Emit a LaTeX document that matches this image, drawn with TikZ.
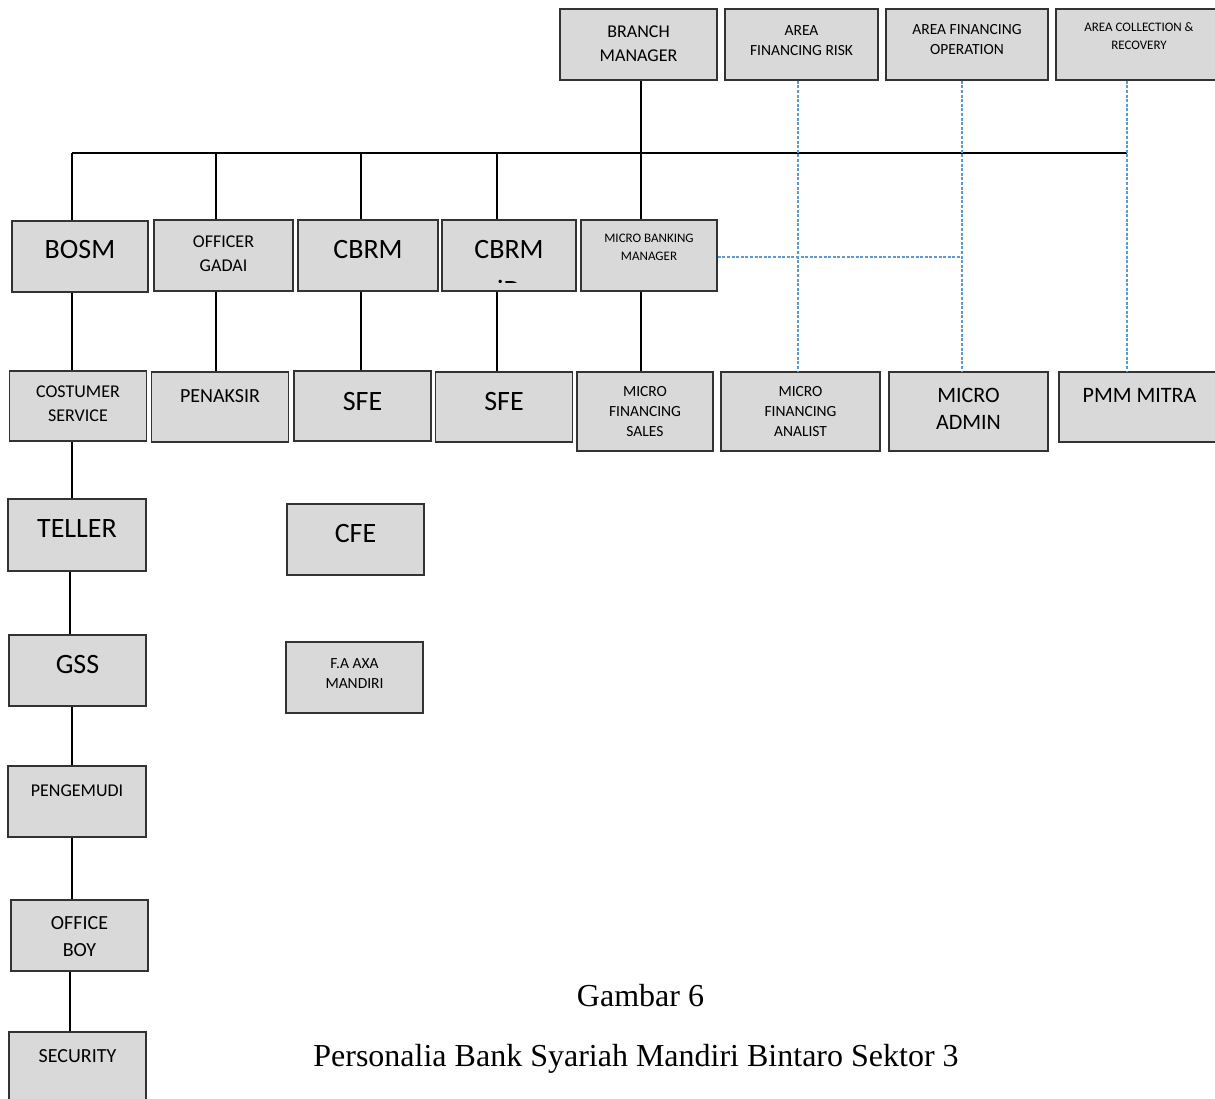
\documentclass[tikz,border=0pt]{standalone}
\usepackage{fontspec}
\setmainfont{Carlito}
\newfontfamily\captfont{Liberation Serif}
\usepackage{tikz}

\definecolor{isi}{HTML}{D9D9D9}
\definecolor{tepi}{HTML}{333333}
\definecolor{biru}{HTML}{5B9BD5}

\tikzset{
  kotak/.style={draw=tepi, fill=isi, line width=1.6pt, inner sep=0pt},
  hubung/.style={line width=1.3pt},
  putus/.style={draw=biru, line width=1.1pt, dash pattern=on 3pt off 1.6pt},
  fXL/.style={font=\fontsize{28}{34}\selectfont, align=center, anchor=center},
  fL/.style={font=\fontsize{22}{27}\selectfont, align=center, anchor=center},
  fM/.style={font=\fontsize{20}{27}\selectfont, align=center, anchor=center},
  fN/.style={font=\fontsize{18}{24}\selectfont, align=center, anchor=center},
  fS/.style={font=\fontsize{15.5}{20}\selectfont, align=center, anchor=center},
  fT/.style={font=\fontsize{13}{18}\selectfont, align=center, anchor=center},
  judul/.style={font=\captfont\fontsize{32}{38}\selectfont, anchor=base}
}

\begin{document}
\begin{tikzpicture}[x=1pt, y=-1pt]
    \useasboundingbox (0,0) rectangle (1215,1099);

    % top row
    \node[kotak, minimum width=157pt, minimum height=71pt, label={[fN, yshift=-35.5pt]north:BRANCH\\MANAGER}] (bm) at (638.5,44.5) {};
    \node[kotak, minimum width=153pt, minimum height=71pt, label={[fS, yshift=-32pt]north:AREA\\FINANCING RISK}] (afr) at (801.5,44.5) {};
    \node[kotak, minimum width=162pt, minimum height=71pt, label={[fS, yshift=-31.5pt]north:AREA FINANCING\\OPERATION}] (afo) at (967,44.5) {};
    \node[kotak, minimum width=166pt, minimum height=71pt, label={[fT, yshift=-28pt]north:AREA COLLECTION \&\\RECOVERY}] (acr) at (1139,44.5) {};

    % second row
    \node[kotak, minimum width=136pt, minimum height=71pt, label={[fXL, yshift=-29pt]north:BOSM}] (bosm) at (80,256.5) {};
    \node[kotak, minimum width=139pt, minimum height=71pt, label={[fN, yshift=-35pt]north:OFFICER\\GADAI}] (og) at (223.5,255.5) {};
    \node[kotak, minimum width=140pt, minimum height=71pt, label={[fXL, yshift=-30pt]north:CBRM}] (cbrm) at (368,255.5) {};
    \node[kotak, minimum width=134pt, minimum height=71pt, label={[fXL, yshift=-30pt]north:CBRM}] (cbrmb) at (509,255.5) {};
    \node[kotak, minimum width=136pt, minimum height=71pt, label={[fT, yshift=-28pt]north:MICRO BANKING\\MANAGER}] (mbm) at (649,255.5) {};
    \begin{scope}
        \clip (443,222) rectangle (575,283);
        \node[fXL] (cbrmid) at (509,290) {iD};
    \end{scope}

    % third row
    \node[kotak, minimum width=137pt, minimum height=70pt, label={[fN, yshift=-33.5pt]north:COSTUMER\\SERVICE}] (cs) at (78,406) {};
    \node[kotak, minimum width=137pt, minimum height=70pt, label={[fM, yshift=-25pt]north:PENAKSIR}] (pen) at (220,407) {};
    \node[kotak, minimum width=137pt, minimum height=70pt, label={[fXL, yshift=-31pt]north:SFE}] (sfe) at (362.5,406) {};
    \node[kotak, minimum width=137pt, minimum height=70pt, label={[fXL, yshift=-30pt]north:SFE}] (sfeb) at (504,407) {};
    \node[kotak, minimum width=136pt, minimum height=79pt, label={[fS, yshift=-40pt]north:MICRO\\FINANCING\\SALES}] (mfs) at (645,411.5) {};
    \node[kotak, minimum width=159pt, minimum height=79pt, label={[fS, yshift=-40pt]north:MICRO\\FINANCING\\ANALIST}] (mfa) at (800.5,411.5) {};
    \node[kotak, minimum width=159pt, minimum height=79pt, label={[fL, yshift=-37.5pt]north:MICRO\\ADMIN}] (ma) at (968.5,411.5) {};
    \node[kotak, minimum width=161pt, minimum height=70pt, label={[fL, yshift=-24pt]north:PMM MITRA}] (pmm) at (1139.5,407) {};

    % left column
    \node[kotak, minimum width=138pt, minimum height=72pt, label={[fXL, yshift=-30pt]north:TELLER}] (tel) at (77,535) {};
    \node[kotak, minimum width=137pt, minimum height=71pt, label={[fXL, yshift=-30pt]north:GSS}] (gss) at (77.5,670.5) {};
    \node[kotak, minimum width=138pt, minimum height=71pt, label={[fN, yshift=-26pt]north:PENGEMUDI}] (peng) at (77,801.5) {};
    \node[kotak, minimum width=137pt, minimum height=71pt, label={[fM, yshift=-37.5pt]north:OFFICE\\BOY}] (ob) at (79.5,935.5) {};
    \node[kotak, minimum width=137pt, minimum height=78pt, label={[fM, yshift=-25pt]north:SECURITY}] (sec) at (77.5,1071) {};

    % loose boxes
    \node[kotak, minimum width=137pt, minimum height=71pt, label={[fXL, yshift=-30pt]north:CFE}] (cfe) at (355.5,539.5) {};
    \node[kotak, minimum width=137pt, minimum height=71pt, label={[fS, yshift=-32pt]north:F.A AXA\\MANDIRI}] (fa) at (354.5,677.5) {};

    % lines
    \coordinate (xa) at (72,153);
    \coordinate (xaa) at (70,153);
    \coordinate (xb) at (216,153);
    \coordinate (xc) at (361,153);
    \coordinate (xd) at (497,153);
    \coordinate (xe) at (641,153);
    \coordinate (xf) at (1127,153);
    \coordinate (da) at (798,153);
    \coordinate (db) at (962,153);

    \draw[hubung] (xa) -- (xf);
    \draw[hubung] (bm.south -| xe) -- (mbm.north -| xe);
    \draw[hubung] (xa) -- (xa |- bosm.north);
    \draw[hubung] (xb) -- (xb |- og.north);
    \draw[hubung] (xc) -- (xc |- cbrm.north);
    \draw[hubung] (xd) -- (xd |- cbrmb.north);

    \draw[hubung] (bosm.south -| xa) -- (cs.north -| xa);
    \draw[hubung] (og.south -| xb) -- (pen.north -| xb);
    \draw[hubung] (cbrm.south -| xc) -- (sfe.north -| xc);
    \draw[hubung] (cbrmb.south -| xd) -- (sfeb.north -| xd);
    \draw[hubung] (mbm.south -| xe) -- (mfs.north -| xe);

    \draw[hubung] (cs.south -| xa) -- (tel.north -| xa);
    \draw[hubung] (tel.south -| xaa) -- (gss.north -| xaa);
    \draw[hubung] (gss.south -| xa) -- (peng.north -| xa);
    \draw[hubung] (peng.south -| xa) -- (ob.north -| xa);
    \draw[hubung] (ob.south -| xaa) -- (sec.north -| xaa);

    \draw[putus] (afr.south -| da) -- (mfa.north -| da);
    \draw[putus] (afo.south -| db) -- (ma.north -| db);
    \draw[putus] (acr.south -| xf) -- (pmm.north -| xf);
    \draw[putus] ([yshift=-1.5pt]mbm.east) -- ([yshift=-1.5pt]mbm.east -| db);

    % caption
    \node[judul] (gambar) at (640.5,1006) {Gambar 6};
    \node[judul] (ket) at (636,1066) {Personalia Bank Syariah Mandiri Bintaro Sektor 3};
\end{tikzpicture}
\end{document}
